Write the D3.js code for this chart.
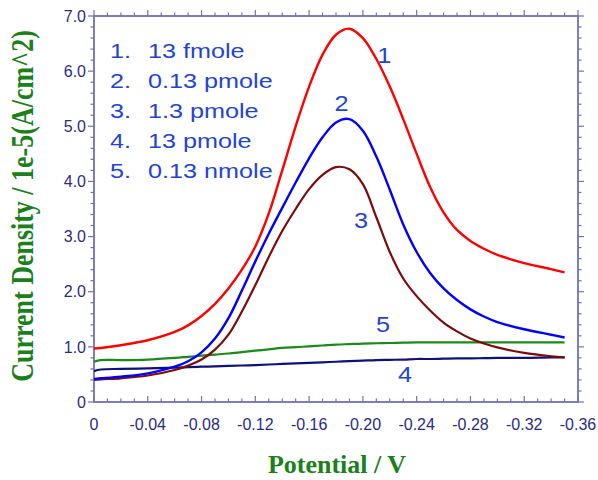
<!DOCTYPE html>
<html>
<head>
<meta charset="utf-8">
<script src="https://cdnjs.cloudflare.com/ajax/libs/d3/7.8.5/d3.min.js"></script>
<style>
  body { margin: 0; background: white; }
</style>
</head>
<body>
<div id="graph"></div>
<script>
// Potential grid (V) shared by all curves
const potential = [0, -0.005, -0.02, -0.04, -0.06, -0.07, -0.08, -0.09, -0.10, -0.11, -0.12, -0.13, -0.14, -0.15, -0.16, -0.17, -0.18, -0.19,
                   -0.20, -0.21, -0.22, -0.23, -0.24, -0.25, -0.26, -0.27, -0.28, -0.29, -0.30, -0.32, -0.34, -0.35];

// current density, 1e-5 A/cm^2
const curve1 = [0.97, 0.98, 1.03, 1.12, 1.27, 1.39, 1.56, 1.78, 2.06, 2.40, 2.82, 3.42, 4.20, 5.00, 5.72, 6.30, 6.66, 6.77,
                6.60, 6.22, 5.72, 5.13, 4.50, 3.90, 3.44, 3.12, 2.92, 2.78, 2.67, 2.52, 2.41, 2.35];
const curve2 = [0.42, 0.43, 0.46, 0.52, 0.64, 0.74, 0.90, 1.15, 1.52, 2.02, 2.55, 3.05, 3.52, 3.98, 4.42, 4.80, 5.07, 5.13,
                4.92, 4.45, 3.85, 3.22, 2.72, 2.34, 2.06, 1.85, 1.68, 1.55, 1.45, 1.32, 1.22, 1.17];
const curve3 = [0.40, 0.41, 0.43, 0.48, 0.58, 0.66, 0.77, 0.95, 1.22, 1.64, 2.12, 2.63, 3.10, 3.50, 3.86, 4.12, 4.26, 4.22,
                3.95, 3.35, 2.72, 2.24, 1.92, 1.66, 1.44, 1.28, 1.15, 1.06, 0.99, 0.89, 0.83, 0.81];
const curve4 = [0.56, 0.59, 0.60, 0.61, 0.625, 0.632, 0.64, 0.647, 0.655, 0.662, 0.67, 0.68, 0.69, 0.70, 0.71, 0.72, 0.73, 0.74,
                0.75, 0.76, 0.765, 0.77, 0.78, 0.78, 0.785, 0.79, 0.79, 0.795, 0.80, 0.80, 0.81, 0.81];
const curve5 = [0.73, 0.76, 0.76, 0.77, 0.80, 0.82, 0.84, 0.86, 0.88, 0.905, 0.93, 0.955, 0.98, 0.995, 1.01, 1.025, 1.04, 1.05,
                1.06, 1.065, 1.07, 1.075, 1.08, 1.08, 1.08, 1.08, 1.08, 1.08, 1.08, 1.08, 1.08, 1.08];

const legendLabels = ["13 fmole", "0.13 pmole", "1.3 pmole", "13 pmole", "0.13 nmole"];
const xTicks = [0, -0.04, -0.08, -0.12, -0.16, -0.20, -0.24, -0.28, -0.32, -0.36];
const yTicks = [0, 1, 2, 3, 4, 5, 6, 7];

// curve id -> label position (V, value at baseline)
const curveLabels = [
  {id: "1", v: -0.2159, c: 6.15},
  {id: "2", v: -0.1842, c: 5.28},
  {id: "3", v: -0.1986, c: 3.16},
  {id: "4", v: -0.2313, c: 0.36},
  {id: "5", v: -0.2150, c: 1.27}
];

const width = 598, height = 480;
const margin = {left: 94, right: 20, top: 16, bottom: 78};
const axisColor = "#7070b8";
const tickTextColor = "#2b2b80";
const labelBlue = "#1f44d4";
const titleGreen = "#1a801a";

const svg = d3.select("#graph")
  .append("svg")
  .attr("width", width)
  .attr("height", height);

const x = d3.scaleLinear().domain([0, -0.36]).range([margin.left, width - margin.right]);
const y = d3.scaleLinear().domain([0, 7]).range([height - margin.bottom, margin.top]);

const x0 = x.range()[0], x1 = x.range()[1];
const y0 = y.range()[0], y1 = y.range()[1];

// minor ticks
const xMinor = d3.range(0, 37).map(function(i) { return -i * 0.01; });
const yMinor = d3.range(0, 36).map(function(i) { return i * 0.2; });

const ticks = svg.append("g").attr("stroke", axisColor).attr("stroke-width", 1.2);
// bottom: inward
ticks.selectAll(".bminor").data(xMinor).enter().append("line")
  .attr("x1", function(d) { return x(d); }).attr("x2", function(d) { return x(d); })
  .attr("y1", y0).attr("y2", function(d, i) { return i % 4 == 0 ? y0 - 6 : y0 - 3.5; });
// top: outward
ticks.selectAll(".tminor").data(xMinor).enter().append("line")
  .attr("x1", function(d) { return x(d); }).attr("x2", function(d) { return x(d); })
  .attr("y1", y1).attr("y2", function(d, i) { return i % 4 == 0 ? y1 - 6 : y1 - 3.5; });
// left: outward
ticks.selectAll(".lminor").data(yMinor).enter().append("line")
  .attr("y1", function(d) { return y(d); }).attr("y2", function(d) { return y(d); })
  .attr("x1", x0).attr("x2", function(d, i) { return i % 5 == 0 ? x0 - 6 : x0 - 3.5; });
// right: outward
ticks.selectAll(".rminor").data(yMinor).enter().append("line")
  .attr("y1", function(d) { return y(d); }).attr("y2", function(d) { return y(d); })
  .attr("x1", x1).attr("x2", function(d, i) { return i % 5 == 0 ? x1 + 6 : x1 + 3.5; });

// frame
svg.append("rect")
  .attr("x", x0).attr("y", y1)
  .attr("width", x1 - x0).attr("height", y0 - y1)
  .attr("fill", "none")
  .attr("stroke", axisColor)
  .attr("stroke-width", 1.8);

// tick labels
svg.append("g").selectAll("text").data(xTicks).enter().append("text")
  .attr("x", function(d) { return x(d); })
  .attr("y", y0 + 28)
  .attr("text-anchor", "middle")
  .style("font-family", "'Liberation Sans', Arial, sans-serif")
  .style("font-size", "16px")
  .attr("fill", tickTextColor)
  .text(function(d) { return d == 0 ? "0" : d3.format(".2f")(d).replace("−", "-"); });

svg.append("g").selectAll("text").data(yTicks).enter().append("text")
  .attr("x", x0 - 8)
  .attr("y", function(d) { return y(d); })
  .attr("dy", "0.36em")
  .attr("text-anchor", "end")
  .style("font-family", "'Liberation Sans', Arial, sans-serif")
  .style("font-size", "16px")
  .attr("fill", tickTextColor)
  .text(function(d) { return d == 0 ? "0" : d3.format(".1f")(d); });

// curves
const series = [
  {values: curve1, color: "#ff0000", w: 2.4},
  {values: curve2, color: "#0000ff", w: 2.4},
  {values: curve3, color: "#7a0c0c", w: 2.2},
  {values: curve4, color: "#10107a", w: 2.2},
  {values: curve5, color: "#1a8a1a", w: 2.2}
];

const line = d3.line()
  .x(function(d) { return x(d[0]); })
  .y(function(d) { return y(d[1]); })
  .curve(d3.curveCatmullRom.alpha(0.5));

// draw so red/blue/brown sit on top of baselines
[4, 3, 2, 1, 0].forEach(function(k) {
  const s = series[k];
  svg.append("path")
    .datum(potential.map(function(p, i) { return [p, s.values[i]]; }))
    .attr("d", line)
    .attr("fill", "none")
    .attr("stroke", s.color)
    .attr("stroke-width", s.w)
    .attr("stroke-linejoin", "round");
});

// curve number labels
svg.append("g").selectAll("text").data(curveLabels).enter().append("text")
  .attr("transform", function(d) { return "translate(" + x(d.v) + "," + y(d.c) + ") scale(1.15,1)"; })
  .attr("text-anchor", "middle")
  .style("font-family", "'Liberation Sans', Arial, sans-serif")
  .style("font-size", "22px")
  .attr("fill", labelBlue)
  .text(function(d) { return d.id; });

// legend
const legend = svg.append("g")
  .style("font-family", "'Liberation Sans', Arial, sans-serif")
  .style("font-size", "21px")
  .attr("fill", labelBlue);

legendLabels.forEach(function(lbl, i) {
  const by = 58 + i * 30;
  legend.append("text")
    .attr("transform", "translate(110," + by + ") scale(1.2,1)")
    .text((i + 1) + ".");
  legend.append("text")
    .attr("transform", "translate(148," + by + ") scale(1.2,1)")
    .text(lbl);
});

// axis titles
svg.append("text")
  .attr("x", 337)
  .attr("y", 473)
  .attr("text-anchor", "middle")
  .style("font-family", "'Liberation Serif', 'Times New Roman', serif")
  .style("font-weight", "bold")
  .style("font-size", "26px")
  .attr("fill", titleGreen)
  .text("Potential / V");

svg.append("text")
  .attr("transform", "translate(33,206) rotate(-90) scale(1,1.2)")
  .attr("text-anchor", "middle")
  .style("font-family", "'Liberation Serif', 'Times New Roman', serif")
  .style("font-weight", "bold")
  .style("font-size", "26px")
  .attr("fill", titleGreen)
  .text("Current Density / 1e-5(A/cm^2)");
</script>
</body>
</html>
